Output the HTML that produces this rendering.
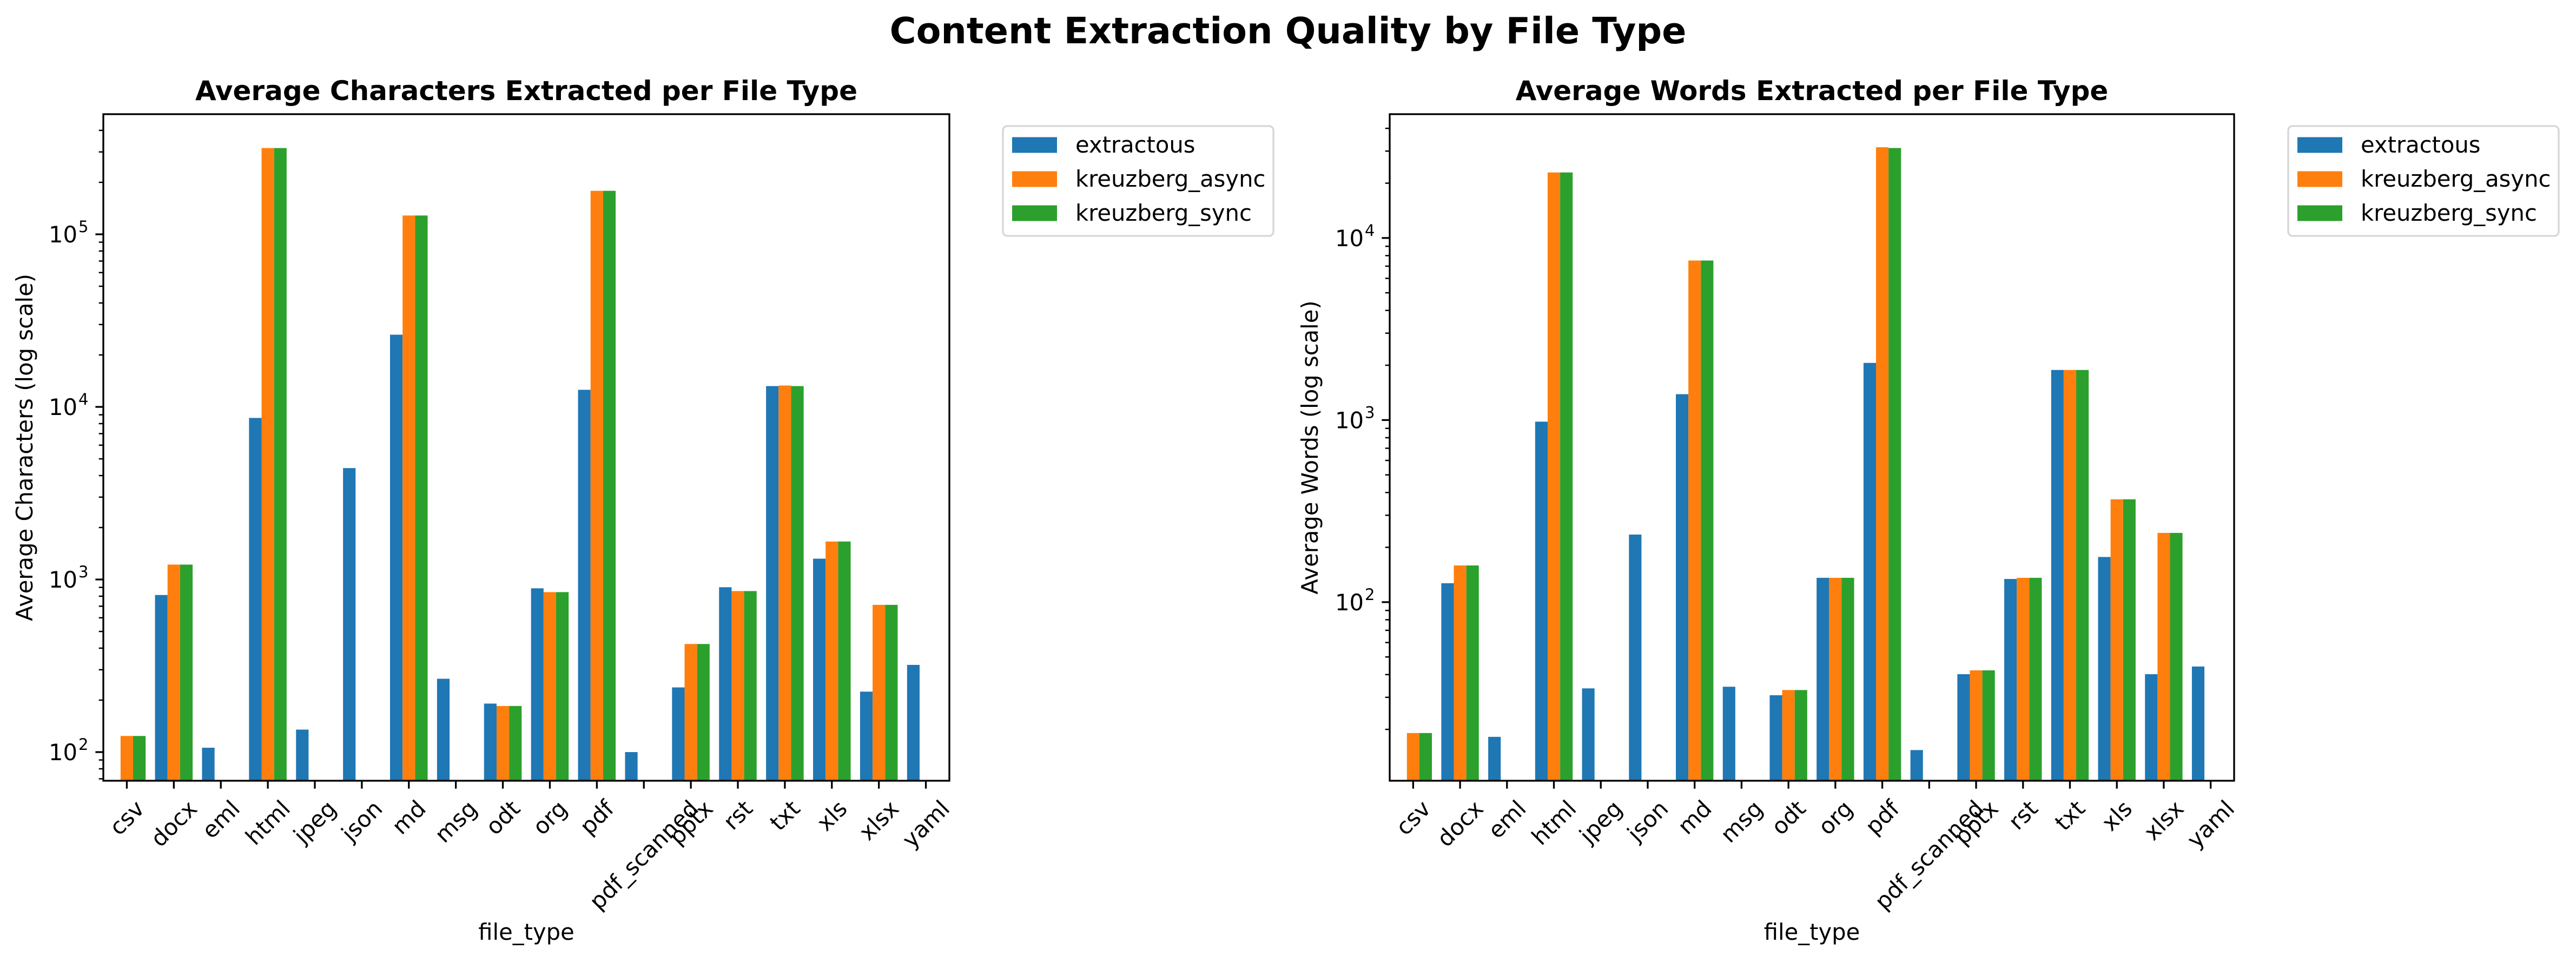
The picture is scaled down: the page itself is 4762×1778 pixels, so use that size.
<!DOCTYPE html>
<html><head><meta charset="utf-8">
<style>
html,body{margin:0;padding:0;background:#fff;}
svg{display:block;font-family:"DejaVu Sans","Liberation Sans",sans-serif;}
</style></head>
<body>
<svg id="fig" width="4762" height="1778" viewBox="0 0 4762 1778" xmlns="http://www.w3.org/2000/svg">
<rect width="4762" height="1778" fill="#fff"/>
<text x="2381" y="80" text-anchor="middle" font-size="66.7" font-weight="bold">Content Extraction Quality by File Type</text>
</svg>
<script>
const categories = ["csv","docx","eml","html","jpeg","json","md","msg","odt","org","pdf","pdf_scanned","pptx","rst","txt","xls","xlsx","yaml"];
const seriesNames = ["extractous","kreuzberg_async","kreuzberg_sync"];
const charsExtractous = [null,813,106,8630,135,4420,26200,266,191,889,12560,100,237,902,13200,1320,224,320];
const charsAsync = [124,1220,null,316000,null,null,128500,null,185,845,178600,null,423,857,13300,1660,713,null];
const charsSync = [124,1220,null,316000,null,null,128500,null,185,845,178600,null,423,857,13200,1660,713,null];
const wordsExtractous = [null,127,18.2,980,33.6,235,1387,34.3,30.8,136,2060,15.4,40.2,134,1884,177,40.2,44.3];
const wordsAsync = [19.1,159,null,22900,null,null,7520,null,32.9,136,31500,null,42.2,136,1884,367,240,null];
const wordsSync = [19.1,159,null,22900,null,null,7520,null,32.9,136,31200,null,42.2,136,1884,367,240,null];
const charsYTicks = [2,3,4,5];
const wordsYTicks = [2,3,4];

const colors = ["#1f77b4","#ff7f0e","#2ca02c"];
const NS = "http://www.w3.org/2000/svg";
const fig = document.getElementById('fig');
function mk(tag, attrs, parent){
  const e = document.createElementNS(NS, tag);
  for (const k in attrs) e.setAttribute(k, attrs[k]);
  (parent||fig).appendChild(e);
  return e;
}

function drawPanel(cfg){
  const g = mk('g', {});
  
  
  const L=cfg.x0, R=cfg.x1, T=211, B=1443;
  const lmin=cfg.lmin, lmax=cfg.lmax;
  const y = v => B - (Math.log10(v)-lmin)/(lmax-lmin)*(B-T);
  const n = categories.length;
  const xs = i => L + (i+0.5)/n*(R-L);
  const step = (R-L)/n, bw = step*0.8/3;
  // title
  const tt = mk('text', {x:(L+R)/2, y:185, 'text-anchor':'middle', 'font-size':50, 'font-weight':'bold'}, g);
  tt.textContent = cfg.title;
  
  
  // bars
  cfg.series.forEach((arr, s) => {
    arr.forEach((v, i) => {
      if (v == null) return;
      const yy = y(v);
      const r = mk('rect', {x: xs(i) - 1.5*bw + s*bw, y: yy, width: bw, height: B-yy, fill: colors[s]}, g);
      
      
    });
  });
  // minor ticks
  for (let d=Math.floor(lmin); d<=Math.ceil(lmax); d++){
    for (let m=2;m<=9;m++){
      const lv = d+Math.log10(m);
      if (lv<lmin||lv>lmax) continue;
      const yy=y(Math.pow(10,lv));
      mk('line',{x1:L,x2:L-8.3,y1:yy,y2:yy,stroke:'#000','stroke-width':2.5},g);
    }
  }
  // major ticks
  cfg.ticks.forEach(p => {
    const yy = y(Math.pow(10,p));
    mk('line',{x1:L,x2:L-14.6,y1:yy,y2:yy,stroke:'#000','stroke-width':3.3},g);
    const t = mk('text',{x:L-48,y:yy+15,'text-anchor':'end','font-size':41.7},g);
    t.textContent = '10';
    
    
    const sp = mk('tspan',{x:L-28,y:yy-5,'text-anchor':'start','font-size':29},g);
    sp.textContent = String(p);
    g.removeChild(sp);
    const t2 = mk('text',{x:L-46,y:yy-4,'font-size':29},g);
    t2.textContent = String(p);
    
    
  });
  // x ticks and labels
  categories.forEach((c,i)=>{
    const xx=xs(i);
    mk('line',{x1:xx,x2:xx,y1:B,y2:B+14.6,stroke:'#000','stroke-width':3.3},g);
    const t = mk('text',{'font-size':41.7,'text-anchor':'middle','dominant-baseline':'central'},g);
    t.textContent=c;
    
    
    const len = t.getComputedTextLength ? t.getComputedTextLength() : c.length*25;
    const h = 41.7;
    const bh = (len + h)*Math.SQRT1_2;
    const cy = B + 14.6 + 14.6 + bh/2;
    t.setAttribute('x', xx); t.setAttribute('y', cy);
    t.setAttribute('transform','rotate(-45 '+xx+' '+cy+')');
  });
  // spines
  const fr = mk('rect',{x:L,y:T,width:R-L,height:B-T,fill:'none',stroke:'#000','stroke-width':3.3},g);
  
  
  // axis labels
  const xl = mk('text',{x:(L+R)/2,y:1737,'text-anchor':'middle','font-size':41.7},g);
  xl.textContent='file_type';
  
  
  const ylx = cfg.ylx, yly=(T+B)/2;
  const yl = mk('text',{x:ylx,y:yly,'text-anchor':'middle','font-size':41.7,transform:'rotate(-90 '+ylx+' '+yly+')'},g);
  yl.textContent=cfg.ylabel;
  
  
  // legend
  const lx=cfg.legX;
  const lg = mk('g',{},g);
  
  
  mk('rect',{x:lx,y:233,width:500,height:203,rx:8,fill:'#fff',stroke:'#d6d6d6','stroke-width':3.3},lg);
  seriesNames.forEach((s,k)=>{
    const cy = 268 + k*63;
    const sw = mk('rect',{x:lx+17,y:cy-14.5,width:83,height:29,fill:colors[k]},lg);
    
    
    const t = mk('text',{x:lx+134,y:cy+14,'font-size':41.7},lg);
    t.textContent=s;
    
    
  });
}

drawPanel({name:'chars-panel', title:'Average Characters Extracted per File Type', x0:191, x1:1755,
  lmin:1.834, lmax:5.696, ticks:charsYTicks, series:[charsExtractous,charsAsync,charsSync],
  ylabel:'Average Characters (log scale)', ylx:60, legX:1854});
drawPanel({name:'words-panel', title:'Average Words Extracted per File Type', x0:2569, x1:4130,
  lmin:1.019, lmax:4.680, ticks:wordsYTicks, series:[wordsExtractous,wordsAsync,wordsSync],
  ylabel:'Average Words (log scale)', ylx:2436, legX:4230});
</script>
</body></html>
